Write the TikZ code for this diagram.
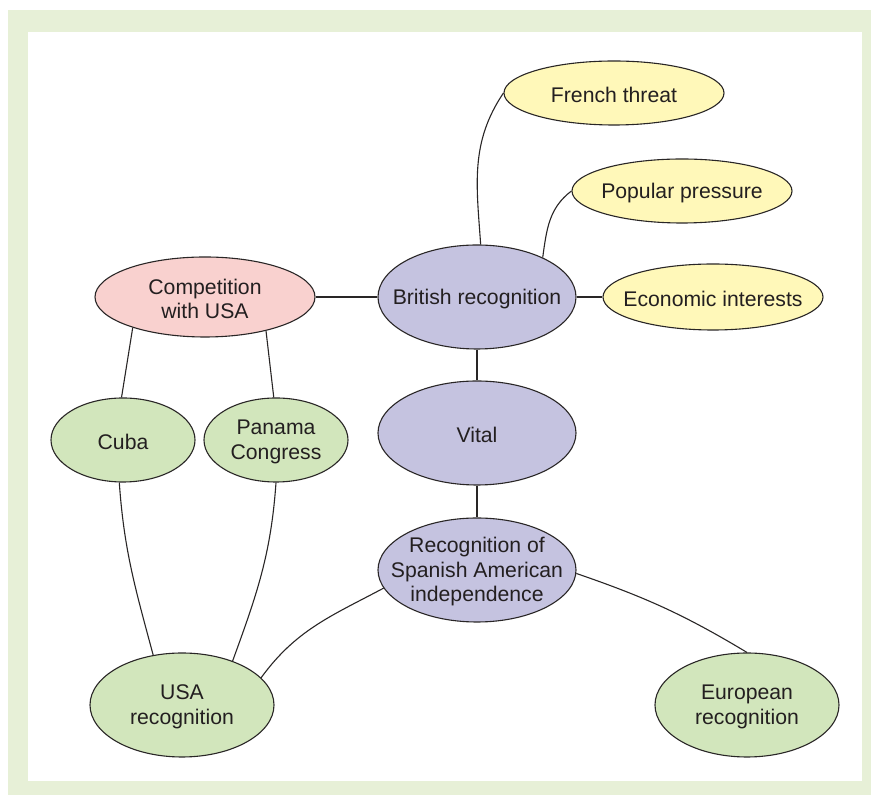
\documentclass[tikz,border=0pt]{standalone}
\usepackage{fontspec}
\setmainfont{Liberation Sans}
\usetikzlibrary{shapes.geometric}

\definecolor{framecolor}{rgb}{0.906, 0.941, 0.843}
\definecolor{linecolor}{rgb}{0.160, 0.150, 0.150}
\definecolor{textcolor}{rgb}{0.137, 0.122, 0.125}
\definecolor{lilacfill}{rgb}{0.773, 0.765, 0.878}
\definecolor{pinkfill}{rgb}{0.976, 0.820, 0.812}
\definecolor{yellowfill}{rgb}{1.000, 0.973, 0.725}
\definecolor{greenfill}{rgb}{0.824, 0.902, 0.737}

\tikzset{
  bubble/.style={ellipse, draw=linecolor, line width=1.1pt, inner sep=0pt},
  txt/.style={text=textcolor, align=center, yshift=-2pt, font=\fontsize{21.2}{24.5}\selectfont},
  link/.style={draw=linecolor, line width=1.1pt},
}

\begin{document}
\begin{tikzpicture}[x=1pt,y=1pt]
\useasboundingbox (0,0) rectangle (871,795);
\fill[white] (0,0) rectangle (871,795);
% frame
\fill[framecolor] (8,0) rectangle (871,785);
\fill[white] (28,14) rectangle (862,763);
% bubbles
\node[bubble, fill=yellowfill, minimum width=220pt, minimum height=64pt, label={[txt]center:French threat}] (french) at (614,702) {};
\node[bubble, fill=yellowfill, minimum width=220pt, minimum height=64pt, label={[txt]center:Popular pressure}] (popular) at (682,604) {};
\node[bubble, fill=yellowfill, minimum width=220pt, minimum height=66pt, label={[txt]center:Economic interests}] (economic) at (713,498) {};
\node[bubble, fill=lilacfill, minimum width=198pt, minimum height=104pt, label={[txt]center:British recognition}] (britrec) at (477,498) {};
\node[bubble, fill=pinkfill, minimum width=220pt, minimum height=80pt, label={[txt]center:{Competition\\with USA}}] (compet) at (205,498) {};
\node[bubble, fill=lilacfill, minimum width=198pt, minimum height=104pt, label={[txt]center:Vital}] (vital) at (477,362) {};
\node[bubble, fill=lilacfill, minimum width=198pt, minimum height=104pt, label={[txt]center:{Recognition of\\Spanish American\\independence}}] (spanrec) at (477,225) {};
\node[bubble, fill=greenfill, minimum width=144pt, minimum height=84pt, label={[txt]center:Cuba}] (cuba) at (123,355) {};
\node[bubble, fill=greenfill, minimum width=144pt, minimum height=84pt, label={[txt]center:{Panama\\Congress}}] (panama) at (276,355) {};
\node[bubble, fill=greenfill, minimum width=184pt, minimum height=104pt, label={[txt]center:{USA\\recognition}}] (usarec) at (182,90) {};
\node[bubble, fill=greenfill, minimum width=184pt, minimum height=104pt, label={[txt]center:{European\\recognition}}] (eurorec) at (747,90) {};
% links
\draw[link] (britrec.86) to[out=94, in=236] (french.west);
\draw[link] (britrec.31) to[out=82, in=217] (popular.west);
\draw[link] (britrec.east) -- (economic.west);
\draw[link] (compet.east) -- (britrec.west);
\draw[link] (britrec.south) -- (vital.north);
\draw[link] (vital.south) -- (spanrec.north);
\draw[link] (compet.203) -- (cuba.92);
\draw[link] (compet.331) -- (panama.93);
\draw[link] (cuba.265) to[out=-86, in=105] (usarec.120);
\draw[link] (panama.south) to[out=-94, in=70] (usarec.41);
\draw[link] (spanrec.191) to[out=208, in=54] (usarec.19);
\draw[link] (spanrec.358) to[out=-19, in=149] (eurorec.north);
\end{tikzpicture}
\end{document}
